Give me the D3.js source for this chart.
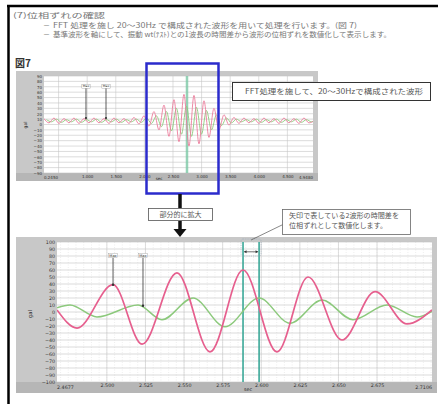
<!DOCTYPE html>
<html>
<head>
<meta charset="utf-8">
<script src="https://cdn.jsdelivr.net/npm/d3@7"></script>
<style>
  html, body { margin: 0; padding: 0; background: #fff; }
  svg { display: block; }
</style>
</head>
<body>
<svg id="page" width="438" height="404"></svg>
<script>
// ---------- text ----------
const headingText = "(7)位相ずれの確認";
const bulletTexts = [
  "FFT 処理を施し 20～30Hz で構成された波形を用いて処理を行います。(図 7)",
  "基準波形を軸にして、振動 wt(ﾃｽﾄ)との1波長の時間差から波形の位相ずれを数値化して表示します。"
];
const figureLabel = "図7";
const overviewNote = "FFT処理を施して、20～30Hzで構成された波形";
const zoomNote = "部分的に拡大";
const shiftNoteLines = ["矢印で表している2波形の時間差を", "位相ずれとして数値化します。"];
const markerLabels = ["Max", "Max"];
const yTitle = "gal";
const xTitle = "sec";

// ---------- overview chart (whole record) ----------
const overviewRange = [0.245, 4.948];          // seconds
const overviewStep = 0.0874;                   // seconds between turning points
const overviewGreenOffset = 0.0437;            // green turning points lag by this
const overviewXTicks = [0.5, 1.0, 1.5, 2.0, 2.5, 3.0, 3.5, 4.0, 4.5];
const overviewYTicks = [-90, -80, -70, -60, -50, -40, -30, -20, -10, 0, 10, 20, 30, 40, 50, 60, 70, 80, 90];
const overviewPink = [
  11, 3, 12, 2, 11, 3, 12, 2, 11, 3, 12, 3, 11, 2, 12, 3, 11, 2, 13, 1,
  16, -3, 24, -10, 36, -22, 46, -32, 56, -40, 54, -36, 44, -24, 30, -10, 18, -1, 13, 2,
  12, 3, 11, 2, 12, 3, 11, 2, 12, 3, 11, 2, 12, 3, 7
];
const overviewGreen = [
  9, 5, 10, 4, 9, 5, 10, 4, 9, 5, 10, 4, 9, 5, 10, 4, 9, 5, 10, 4,
  12, 2, 16, -4, 24, -12, 30, -18, 34, -22, 32, -18, 26, -10, 18, -2, 12, 3, 10, 5,
  9, 5, 10, 4, 9, 5, 10, 4, 9, 5, 10, 4, 9, 5, 7
];
const overviewMarkerT = [0.979, 1.329];
const overviewMarkerV = [12, 12];
const overviewCursorT = 2.745;

// ---------- detail chart (enlarged window) ----------
const detailRange = [2.4677, 2.7106];
const detailXTicks = [2.500, 2.525, 2.550, 2.575, 2.600, 2.625, 2.650, 2.675];
const detailYTicks = [-100, -90, -80, -70, -60, -50, -40, -30, -20, -10, 0, 10, 20, 30, 40, 50, 60, 70, 80, 90, 100];
const detailPinkT = [2.4677, 2.4807, 2.5040, 2.5228, 2.5454, 2.5668, 2.5882, 2.6102, 2.6303, 2.6523, 2.6737, 2.6944, 2.7106];
const detailPinkV = [3, -23, 39, -46, 56, -57, 60, -57, 50, -40, 29, -17, 3];
const detailGreenT = [2.4677, 2.4761, 2.4936, 2.5202, 2.5357, 2.5558, 2.5765, 2.5986, 2.6186, 2.6394, 2.6594, 2.6815, 2.7009, 2.7106];
const detailGreenV = [6, 10, -7, 10, -11, 20, -21, 20, -16, 17, -11, 10, -7, 1];
const detailMarkerT = [2.5040, 2.5234];
const detailMarkerV = [39, 9];
const detailCursorT = [2.5882, 2.5986];

// ---------- styling ----------
const JP = '"Noto Sans CJK JP", "Noto Sans", sans-serif';
const NUM = '"DejaVu Sans", sans-serif';
const PINK = "#e65f8e";
const GREEN = "#8cc97c";
const TEAL = "#3aa898";

const svg = d3.select("#page");
svg.append("rect").attr("width", 438).attr("height", 404).attr("fill", "#fff");

// page frame
svg.append("line").attr("x1", 8.5).attr("x2", 8.5).attr("y1", 5).attr("y2", 404)
  .attr("stroke", "#000").attr("stroke-width", 2.5);
svg.append("line").attr("x1", 7).attr("x2", 438).attr("y1", 6).attr("y2", 6)
  .attr("stroke", "#000").attr("stroke-width", 2.5);

// heading and bullet lines
svg.append("text").attr("x", 13).attr("y", 17.5).attr("font-family", JP).attr("font-size", 7)
  .attr("fill", "#777").attr("textLength", 92).attr("lengthAdjust", "spacingAndGlyphs").text(headingText);
const bulletY = [27.5, 37];
const bulletLen = [304, 338];
bulletTexts.forEach((t, i) => {
  svg.append("text").attr("x", 43).attr("y", bulletY[i]).attr("font-family", JP).attr("font-size", 7)
    .attr("fill", "#777").text("－");
  svg.append("text").attr("x", 53).attr("y", bulletY[i]).attr("font-family", JP).attr("font-size", 7)
    .attr("fill", "#777").attr("textLength", bulletLen[i]).attr("lengthAdjust", "spacingAndGlyphs").text(t);
});

svg.append("text").attr("x", 15).attr("y", 66.5).attr("font-family", JP).attr("font-size", 10)
  .attr("font-weight", "bold").attr("fill", "#333").text(figureLabel);

// generic chart panel
function panel(opt) {
  const g = svg.append("g");
  const [L, T, R, B] = opt.plot;
  g.append("rect").attr("x", opt.frame[0]).attr("y", opt.frame[1])
    .attr("width", opt.frame[2] - opt.frame[0]).attr("height", opt.frame[3] - opt.frame[1]).attr("fill", "#c8c8c8");
  g.append("rect").attr("x", opt.frame[0]).attr("y", B)
    .attr("width", opt.frame[2] - opt.frame[0]).attr("height", opt.frame[3] - B).attr("fill", "#b6b6b6");
  g.append("rect").attr("x", L).attr("y", T).attr("width", R - L).attr("height", B - T).attr("fill", "#fff");

  const x = d3.scaleLinear().domain(opt.xDomain).range([L, R]);
  const y = d3.scaleLinear().domain(opt.yDomain).range([B, T]);

  // minor vertical grid
  if (opt.minorStep) {
    const minor = d3.range(Math.ceil(opt.xDomain[0] / opt.minorStep) * opt.minorStep, opt.xDomain[1], opt.minorStep);
    g.append("g").selectAll("line").data(minor).join("line")
      .attr("x1", d => x(d)).attr("x2", d => x(d)).attr("y1", T).attr("y2", B)
      .attr("stroke", "#e2e2e2").attr("stroke-width", 0.6).attr("stroke-dasharray", "1,1.5");
  }
  // major grid
  g.append("g").selectAll("line").data(opt.xTicks).join("line")
    .attr("x1", d => x(d)).attr("x2", d => x(d)).attr("y1", T).attr("y2", B)
    .attr("stroke", "#d0d0d0").attr("stroke-width", 0.7);
  g.append("g").selectAll("line").data(opt.yTicks).join("line")
    .attr("x1", L).attr("x2", R).attr("y1", d => y(d)).attr("y2", d => y(d))
    .attr("stroke", "#c4c4c4").attr("stroke-width", 0.6);

  // y axis labels
  const yAxis = d3.axisLeft(y).tickValues(opt.yTicks).tickSize(0).tickPadding(2);
  const ya = g.append("g").attr("transform", `translate(${L},0)`).call(yAxis);
  ya.select(".domain").remove();
  ya.selectAll("text").attr("font-family", NUM).attr("font-size", opt.labelSize).attr("fill", "#333");

  // x axis labels: round ticks plus the window end points
  const xt = opt.xTicks.filter(d => x(d) - L > 18 && R - x(d) > 18);
  const xa = g.append("g").attr("transform", `translate(0,${B})`)
    .call(d3.axisBottom(x).tickValues(xt).tickSize(0).tickPadding(2).tickFormat(d3.format(".3f")));
  xa.select(".domain").remove();
  xa.selectAll("text").attr("font-family", NUM).attr("font-size", opt.labelSize).attr("fill", "#333");
  [[opt.xDomain[0], "start"], [opt.xDomain[1], "end"]].forEach(([v, a]) => {
    g.append("text").attr("x", x(v)).attr("y", B + 2 + opt.labelSize).attr("text-anchor", a)
      .attr("font-family", NUM).attr("font-size", opt.labelSize).attr("fill", "#333").text(d3.format(".4f")(v));
  });

  // axis titles
  g.append("text").attr("transform", `translate(${opt.yTitlePos[0]},${opt.yTitlePos[1]}) rotate(-90)`)
    .attr("text-anchor", "middle").attr("font-family", NUM).attr("font-size", opt.labelSize + 0.5)
    .attr("fill", "#222").text(yTitle);
  g.append("text").attr("x", opt.xTitlePos[0]).attr("y", opt.xTitlePos[1]).attr("text-anchor", "middle")
    .attr("font-family", NUM).attr("font-size", opt.labelSize).attr("fill", "#222").text(xTitle);

  const clipId = "clip" + Math.round(L + T);
  svg.append("clipPath").attr("id", clipId).append("rect")
    .attr("x", L).attr("y", T).attr("width", R - L).attr("height", B - T);
  const plot = g.append("g").attr("clip-path", `url(#${clipId})`);
  return { g, plot, x, y };
}

function markers(c, ts, vs, topV, size) {
  ts.forEach((t, i) => {
    c.plot.append("line").attr("x1", c.x(t)).attr("x2", c.x(t)).attr("y1", c.y(topV)).attr("y2", c.y(vs[i]))
      .attr("stroke", "#333").attr("stroke-width", 0.8);
    c.plot.append("circle").attr("cx", c.x(t)).attr("cy", c.y(vs[i])).attr("r", size * 0.35).attr("fill", "#333");
    c.plot.append("rect").attr("x", c.x(t) - size * 1.3).attr("y", c.y(topV) - size * 1.1)
      .attr("width", size * 2.6).attr("height", size * 1.2).attr("fill", "#fff").attr("stroke", "#999").attr("stroke-width", 0.4);
    c.plot.append("text").attr("x", c.x(t)).attr("y", c.y(topV) - size * 0.2).attr("text-anchor", "middle")
      .attr("font-family", NUM).attr("font-size", size).attr("fill", "#222").text(markerLabels[i]);
  });
}

const wave = (c) => d3.line().x(d => c.x(d[0])).y(d => c.y(d[1])).curve(d3.curveMonotoneX);

// ---------- overview ----------
const ov = panel({
  frame: [16, 71, 318, 181], plot: [44, 76, 313, 173],
  xDomain: overviewRange, yDomain: [-90, 90],
  xTicks: overviewXTicks, yTicks: overviewYTicks, labelSize: 4,
  yTitlePos: [27, 125], xTitlePos: [159, 180.3]
});
const ovPink = overviewPink.map((v, i) => [overviewRange[0] + i * overviewStep, v]);
const ovGreen = overviewGreen.map((v, i) => [overviewRange[0] + overviewGreenOffset + i * overviewStep, v]);
ov.plot.append("line").attr("x1", ov.x(overviewCursorT)).attr("x2", ov.x(overviewCursorT)).attr("y1", 71).attr("y2", 181)
  .attr("stroke", "#7cc9a6").attr("stroke-width", 2.5).attr("opacity", 0.8);
ov.plot.append("path").datum(ovGreen).attr("d", wave(ov)).attr("fill", "none").attr("stroke", GREEN).attr("stroke-width", 0.9);
ov.plot.append("path").datum(ovPink).attr("d", wave(ov)).attr("fill", "none").attr("stroke", "#ec7d9c").attr("stroke-width", 0.9);
markers(ov, overviewMarkerT, overviewMarkerV, 68, 3.2);

// callout for the overview
svg.append("rect").attr("x", 232.5).attr("y", 82.5).attr("width", 198).attr("height", 18)
  .attr("fill", "#fff").attr("stroke", "#333").attr("stroke-width", 1);
svg.append("text").attr("x", 245).attr("y", 94).attr("font-family", JP).attr("font-size", 7)
  .attr("fill", "#555").attr("textLength", 178).attr("lengthAdjust", "spacingAndGlyphs").text(overviewNote);

// selection window
svg.append("rect").attr("x", 146.5).attr("y", 63.5).attr("width", 72).attr("height", 130)
  .attr("fill", "none").attr("stroke", "#2b2bcc").attr("stroke-width", 2.5);

// arrow down to the enlarged view
svg.append("line").attr("x1", 180).attr("x2", 180).attr("y1", 194).attr("y2", 208)
  .attr("stroke", "#111").attr("stroke-width", 3.5);
svg.append("rect").attr("x", 148.5).attr("y", 208.5).attr("width", 64).attr("height", 12)
  .attr("fill", "#fff").attr("stroke", "#555").attr("stroke-width", 0.8);
svg.append("text").attr("x", 180.5).attr("y", 217.3).attr("text-anchor", "middle").attr("font-family", JP)
  .attr("font-size", 7).attr("fill", "#555").text(zoomNote);
svg.append("line").attr("x1", 180).attr("x2", 180).attr("y1", 221).attr("y2", 230)
  .attr("stroke", "#111").attr("stroke-width", 3.5);
svg.append("path").attr("d", "M173.5,229 L186.5,229 L180,237 Z").attr("fill", "#111");

// ---------- detail ----------
const dt = panel({
  frame: [16, 237, 437, 393], plot: [57, 242, 432, 382],
  xDomain: detailRange, yDomain: [-100, 100],
  xTicks: detailXTicks, yTicks: detailYTicks, labelSize: 4.8, minorStep: 0.005,
  yTitlePos: [32, 314], xTitlePos: [248, 391]
});
detailCursorT.forEach(t => {
  dt.plot.append("line").attr("x1", dt.x(t)).attr("x2", dt.x(t)).attr("y1", 242).attr("y2", 382)
    .attr("stroke", TEAL).attr("stroke-width", 1.6);
});
const dGreen = detailGreenT.map((t, i) => [t, detailGreenV[i]]);
const dPink = detailPinkT.map((t, i) => [t, detailPinkV[i]]);
dt.plot.append("path").datum(dGreen).attr("d", wave(dt)).attr("fill", "none").attr("stroke", GREEN).attr("stroke-width", 1.5);
dt.plot.append("path").datum(dPink).attr("d", wave(dt)).attr("fill", "none").attr("stroke", PINK).attr("stroke-width", 1.7);
markers(dt, detailMarkerT, detailMarkerV, 78, 3.6);

// time-shift arrow between the two cursors
const ax0 = dt.x(detailCursorT[0]) + 1, ax1 = dt.x(detailCursorT[1]) - 1, ay = dt.y(86);
svg.append("line").attr("x1", ax0).attr("x2", ax1).attr("y1", ay).attr("y2", ay).attr("stroke", "#333").attr("stroke-width", 0.7);
svg.append("path").attr("d", `M${ax0},${ay} l2.5,-1.5 l0,3 Z M${ax1},${ay} l-2.5,-1.5 l0,3 Z`).attr("fill", "#333");
svg.append("rect").attr("x", ax0 - 3).attr("y", 239).attr("width", ax1 - ax0 + 6).attr("height", 17).attr("rx", 2)
  .attr("fill", "none").attr("stroke", "#9ab").attr("stroke-width", 0.6).attr("stroke-dasharray", "1.2,1");

// callout for the time shift
svg.append("line").attr("x1", (ax0 + ax1) / 2).attr("y1", 240).attr("x2", 284).attr("y2", 224)
  .attr("stroke", "#555").attr("stroke-width", 0.7);
svg.append("rect").attr("x", 282.5).attr("y", 209.5).attr("width", 128).attr("height", 25)
  .attr("fill", "#fff").attr("stroke", "#666").attr("stroke-width", 0.8);
const noteLen = [110, 98];
shiftNoteLines.forEach((t, i) => {
  svg.append("text").attr("x", 289).attr("y", 218 + i * 10).attr("font-family", JP).attr("font-size", 6.8)
    .attr("fill", "#555").attr("textLength", noteLen[i]).attr("lengthAdjust", "spacingAndGlyphs").text(t);
});
</script>
</body>
</html>
